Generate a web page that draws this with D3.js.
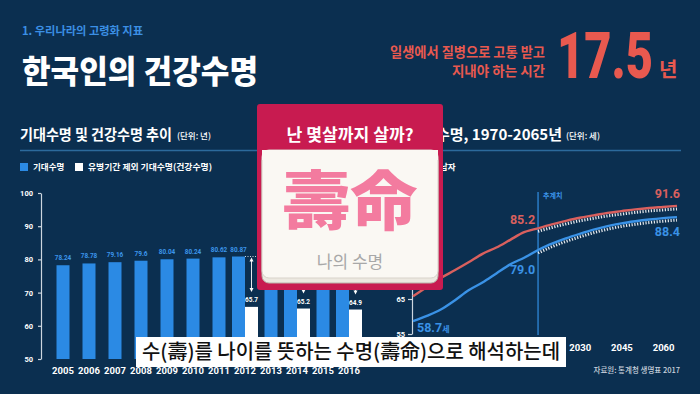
<!DOCTYPE html>
<html><head><meta charset="utf-8">
<script src="https://cdn.jsdelivr.net/npm/d3@7"></script>
<style>html,body{margin:0;padding:0;background:#0b2f50;overflow:hidden}svg{display:block}</style>
</head><body>
<svg id="c" width="700" height="394"></svg>
<script>
// ---- data ----
const barYears = [2005,2006,2007,2008,2009,2010,2011,2012,2013,2014,2015,2016];
const lifeExpectancy = [78.24,78.78,79.16,79.6,80.04,80.24,80.62,80.87,81.36,81.8,82.06,82.36];
const healthYears = [2012,2014,2016];
const healthExpectancy = [65.7,65.2,64.9];
const barYTicks = [50,60,70,80,90,100];

const lineYears = [1970,1975,1980,1985,1990,1995,2000,2005,2010,2015,2020,2025,2030,2035,2040,2045,2050,2055,2060,2065];
const femaleLE = [65.8,68.4,71.0,73.2,75.5,77.9,79.7,81.9,84.1,85.2,86.3,87.3,88.2,88.9,89.6,90.1,90.6,91.0,91.3,91.6];
const maleLE   = [58.7,60.2,62.0,64.6,67.5,69.7,72.3,74.9,76.8,79.0,80.8,82.3,83.6,84.8,85.8,86.6,87.2,87.7,88.1,88.4];
const lineYTicks = [55,65,75,85,95];
const lineXTicks = [1970,1985,2000,2015,2030,2045,2060];
const projStart = 2015;

// ---- style ----
const F = "'Noto Sans CJK KR','Noto Sans',sans-serif";
const NUM = "Roboto,'Noto Sans',sans-serif";
const BG = '#0b2f50', BAR = '#2b8ae4', BLUE_T = '#3c95ea', RED = '#e8594f', LRED = '#d9605e', LBLUE = '#3a92e6';

const svg = d3.select('#c');
svg.append('rect').attr('width',700).attr('height',394).attr('fill',BG);

function T(x,y,s,o){
  o=o||{};
  const t=svg.append('text').attr('x',x).attr('y',y).text(s)
    .attr('font-family',o.ff||F).attr('font-size',o.fs||10).attr('font-weight',o.fw||700)
    .attr('fill',o.fill||'#fff').attr('text-anchor',o.anchor||'start');
  if(o.len){t.attr('textLength',o.len).attr('lengthAdjust','spacingAndGlyphs');}
  return t;
}

// ---- header ----
T(22,35,'1. 우리나라의 고령화 지표',{fs:11.5,fill:'#3b8fe4',len:121});
T(22,83,'한국인의 건강수명',{fs:32,fw:900,len:236});
T(545,57,'일생에서 질병으로 고통 받고',{fs:13.5,fill:RED,anchor:'end',len:155});
T(545,76,'지내야 하는 시간',{fs:13.5,fill:RED,anchor:'end'});
T(557,78,'17.5',{ff:NUM,fs:64,fw:900,fill:RED,len:96});
T(659,77,'년',{fs:20,fill:RED});

// section titles
T(20,140,'기대수명 및 건강수명 추이',{fs:15,len:152});
T(177,139,'(단위: 년)',{fs:8.5,fw:500});
T(562,140,'성별 기대수명, 1970-2065년',{fs:15,anchor:'end'});
T(566,139,'(단위: 세)',{fs:8.5,fw:500});
svg.append('line').attr('x1',20).attr('x2',681).attr('y1',150.5).attr('y2',150.5)
  .attr('stroke','#2c6a9c').attr('stroke-width',1.5);

// legends
svg.append('rect').attr('x',20).attr('y',163).attr('width',8).attr('height',8).attr('fill',BAR);
T(33,170,'기대수명',{fs:8.5});
svg.append('rect').attr('x',75).attr('y',163).attr('width',8).attr('height',8).attr('fill','#fff');
T(88,170,'유병기간 제외 기대수명(건강수명)',{fs:8.5,len:124});
svg.append('rect').attr('x',380).attr('y',163).attr('width',8).attr('height',8).attr('fill',LRED);
T(392,170,'여자',{fs:8.5});
svg.append('rect').attr('x',427).attr('y',163).attr('width',8).attr('height',8).attr('fill',LBLUE);
T(440,170,'남자',{fs:8.5});

// ---- left bar chart ----
const xB = d3.scaleBand().domain(barYears).range([50,362]);
const yB = d3.scaleLinear().domain([50,100]).range([359,193]);
const bw = 13;

const ax = svg.append('g').attr('transform','translate(41,0)')
  .call(d3.axisLeft(yB).tickValues(barYTicks).tickSize(3).tickSizeOuter(0).tickPadding(5));
ax.select('.domain').attr('stroke','#cdd6df').attr('stroke-width',1.2);
ax.selectAll('.tick line').attr('stroke','#cdd6df').attr('stroke-width',1.2);
ax.selectAll('.tick text').attr('fill','#fff').attr('font-family',NUM).attr('font-weight',700).attr('font-size',7.5);

const hMap = new Map(healthYears.map((y,i)=>[y,healthExpectancy[i]]));
barYears.forEach((yr,i)=>{
  const v = lifeExpectancy[i];
  const paired = hMap.has(yr);
  const bx = xB(yr) + (paired?0:6.5);
  svg.append('rect').attr('x',bx).attr('y',yB(v)).attr('width',bw).attr('height',yB(50)-yB(v)).attr('fill',BAR);
  const s = String(v);
  T(bx+bw/2,yB(v)-5,s,{ff:NUM,fs:7.5,fill:BLUE_T,anchor:'middle',len:s.length*3.3});
  if(paired){
    const h = hMap.get(yr);
    const wx = xB(yr)+bw;
    svg.append('rect').attr('x',wx).attr('y',yB(h)).attr('width',bw).attr('height',yB(50)-yB(h)).attr('fill','#fff');
    T(wx+bw/2,yB(h)-5,String(h),{ff:NUM,fs:7.5,anchor:'middle',len:13});
    const ax0 = wx+bw/2, y0 = yB(v)+1, y1 = yB(h)-15;
    svg.append('line').attr('x1',xB(yr)+bw).attr('x2',xB(yr)+bw+17).attr('y1',yB(v)).attr('y2',yB(v))
      .attr('stroke','#fff').attr('stroke-width',0.8).attr('stroke-dasharray','1,1.5');
    svg.append('line').attr('x1',ax0).attr('x2',ax0).attr('y1',y0+2).attr('y2',y1-2).attr('stroke','#fff').attr('stroke-width',0.9);
    svg.append('path').attr('d',`M${ax0-2},${y0+4}L${ax0},${y0}L${ax0+2},${y0+4}Z`).attr('fill','#fff');
    svg.append('path').attr('d',`M${ax0-2},${y1-4}L${ax0},${y1}L${ax0+2},${y1-4}Z`).attr('fill','#fff');
  }
});
const xa = svg.append('g').attr('transform','translate(0,367)')
  .call(d3.axisBottom(xB).tickSize(0).tickPadding(0));
xa.select('.domain').remove();
xa.selectAll('text').attr('fill','#fff').attr('font-family',NUM).attr('font-weight',700).attr('font-size',9.5);

// ---- right line chart ----
const xL = d3.scaleLinear().domain([1970,2065]).range([413,677]);
const yL = d3.scaleLinear().domain([55,95]).range([334,194]);

const ay = svg.append('g').attr('transform','translate(412,0)')
  .call(d3.axisLeft(yL).tickValues(lineYTicks).tickSize(4).tickSizeOuter(0).tickPadding(3));
ay.select('.domain').attr('stroke','#cdd6df').attr('stroke-width',1.2);
ay.selectAll('.tick line').attr('stroke','#cdd6df').attr('stroke-width',1.2);
ay.selectAll('.tick text').attr('fill','#fff').attr('font-family',NUM).attr('font-weight',700).attr('font-size',7.5);

const xl = svg.append('g').attr('transform','translate(0,344)')
  .call(d3.axisBottom(xL).tickValues(lineXTicks).tickFormat(d3.format('d')).tickSize(0).tickPadding(0));
xl.select('.domain').remove();
xl.selectAll('text').attr('fill','#fff').attr('font-family',NUM).attr('font-weight',700).attr('font-size',9.5);

svg.append('line').attr('x1',xL(projStart)).attr('x2',xL(projStart)).attr('y1',192).attr('y2',335)
  .attr('stroke','#2a7cc6').attr('stroke-width',1.5);
T(xL(projStart)+5,198,'추계치',{fs:7,fill:'#3c95ea'});

function series(vals){ return lineYears.map((y,i)=>({year:y,v:vals[i]})); }
const line = d3.line().x(d=>xL(d.year)).y(d=>yL(d.v)).curve(d3.curveMonotoneX);
const lineOff = d3.line().x(d=>xL(d.year)).y(d=>yL(d.v)+3).curve(d3.curveMonotoneX);
[[femaleLE,LRED],[maleLE,LBLUE]].forEach(([vals,col])=>{
  const s = series(vals);
  const hist = s.filter(d=>d.year<=projStart), proj = s.filter(d=>d.year>=projStart);
  svg.append('path').attr('d',lineOff(proj)).attr('fill','none').attr('stroke','#fff')
    .attr('stroke-width',3).attr('stroke-dasharray','1.2,1.6').attr('opacity',0.9);
  svg.append('path').attr('d',line(hist)).attr('fill','none').attr('stroke',col).attr('stroke-width',2.4);
  svg.append('path').attr('d',line(proj)).attr('fill','none').attr('stroke',col).attr('stroke-width',2.4);
});
const iP = lineYears.indexOf(projStart), iE = lineYears.length-1;
T(xL(projStart)-3,yL(femaleLE[iP])-4,femaleLE[iP].toFixed(1),{ff:NUM,fs:12.5,fill:LRED,anchor:'end'});
T(xL(projStart)-3,yL(maleLE[iP])+24,maleLE[iP].toFixed(1),{ff:NUM,fs:12.5,fill:LBLUE,anchor:'end'});
T(680,yL(femaleLE[iE])-8,femaleLE[iE].toFixed(1),{ff:NUM,fs:12.5,fill:LRED,anchor:'end'});
T(680,yL(maleLE[iE])+19,maleLE[iE].toFixed(1),{ff:NUM,fs:12.5,fill:LBLUE,anchor:'end'});
const t0 = T(417,yL(maleLE[0])+11,maleLE[0].toFixed(1),{ff:NUM,fs:12.5,fill:LBLUE});
t0.append('tspan').attr('font-size',8).attr('font-family',F).text('세');
T(680,373,'자료원: 통계청 생명표 2017',{fs:7.5,fw:500,fill:'#c9d2dc',anchor:'end'});

// ---- card overlay ----
svg.append('rect').attr('x',257).attr('y',104).attr('width',186).attr('height',186).attr('rx',3).attr('fill','#c81b50');
svg.append('rect').attr('x',262).attr('y',154).attr('width',176).attr('height',129).attr('rx',7)
  .attr('fill','#ece8e0').attr('stroke','#b9b3aa').attr('stroke-width',1);
svg.append('rect').attr('x',262).attr('y',150).attr('width',176).attr('height',128).attr('rx',7)
  .attr('fill','#faf8f3').attr('stroke','#d8d3ca').attr('stroke-width',1);
svg.append('rect').attr('x',262).attr('y',150).attr('width',176).attr('height',10).attr('fill','#faf8f3');
T(350,141,'난 몇살까지 살까?',{fs:17,anchor:'middle',len:127});
T(350,224,'壽命',{fs:64,fw:900,fill:'#f37b9f',anchor:'middle',len:135});
T(350,268,'나의 수명',{fs:17,fw:400,fill:'#a8a8a8',anchor:'middle'});

// ---- subtitle ----
svg.append('rect').attr('x',136).attr('y',337).attr('width',430).attr('height',30).attr('fill','#fff');
T(142,359,'수(壽)를 나이를 뜻하는 수명(壽命)으로 해석하는데',{fs:20,fw:500,fill:'#111',len:418});
</script>
</body></html>
